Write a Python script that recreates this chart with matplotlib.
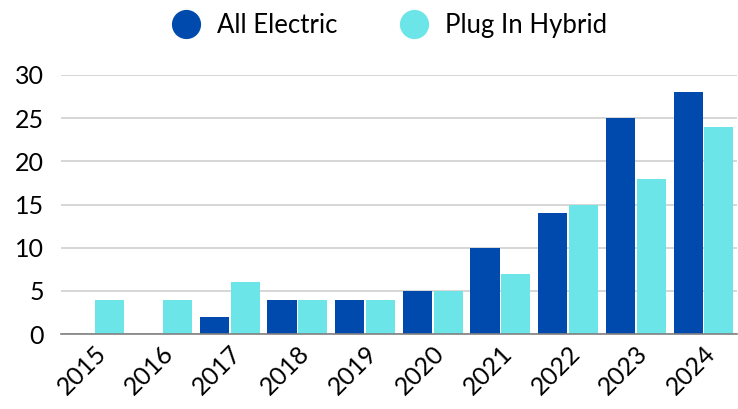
import numpy as np
import matplotlib.pyplot as plt
from matplotlib.lines import Line2D

plt.rcParams['font.family'] = ['Lato', 'DejaVu Sans']

years = ['2015', '2016', '2017', '2018', '2019', '2020', '2021', '2022', '2023', '2024']
all_electric = [0, 0, 2, 4, 4, 5, 10, 14, 25, 28]
plug_in_hybrid = [4, 4, 6, 4, 4, 5, 7, 15, 18, 24]

blue = '#004AAD'
cyan = '#6CE5E8'

fig = plt.figure(figsize=(7.38, 4.09), dpi=100)
ax = fig.add_axes([0.082, 0.183, 0.917, 0.634])

x = np.arange(len(years))
w = 0.43
ax.bar(x - w / 2 - 0.012, all_electric, w, color=blue, zorder=3)
ax.bar(x + w / 2 + 0.012, plug_in_hybrid, w, color=cyan, zorder=3)

ax.set_xlim(-0.5, len(years) - 0.5)
ax.set_ylim(0, 30)
ax.set_yticks(range(0, 31, 5))
ax.yaxis.grid(True, color='#d0d0d0', linewidth=1.2, zorder=0)
ax.set_axisbelow(True)
for s in ['top', 'right', 'left']:
    ax.spines[s].set_visible(False)
ax.spines['bottom'].set_color('#808080')
ax.spines['bottom'].set_linewidth(1.2)
ax.spines['bottom'].set_zorder(4)

ax.set_xticks(x)
ax.set_xticklabels(years, rotation=45, ha='right', rotation_mode='anchor')
ax.tick_params(axis='both', length=0, labelsize=18, colors='black')
ax.tick_params(axis='x', pad=5)
ax.tick_params(axis='y', pad=12)

handles = [
    Line2D([], [], marker='o', linestyle='', markersize=20, color=blue),
    Line2D([], [], marker='o', linestyle='', markersize=20, color=cyan),
]
fig.legend(handles, ['All Electric', 'Plug In Hybrid'], loc='upper center',
           bbox_to_anchor=(0.52, 1.025), ncol=2, frameon=False, fontsize=18.5,
           handletextpad=0.2, columnspacing=2.0)

fig.savefig('out.png', dpi=100)
